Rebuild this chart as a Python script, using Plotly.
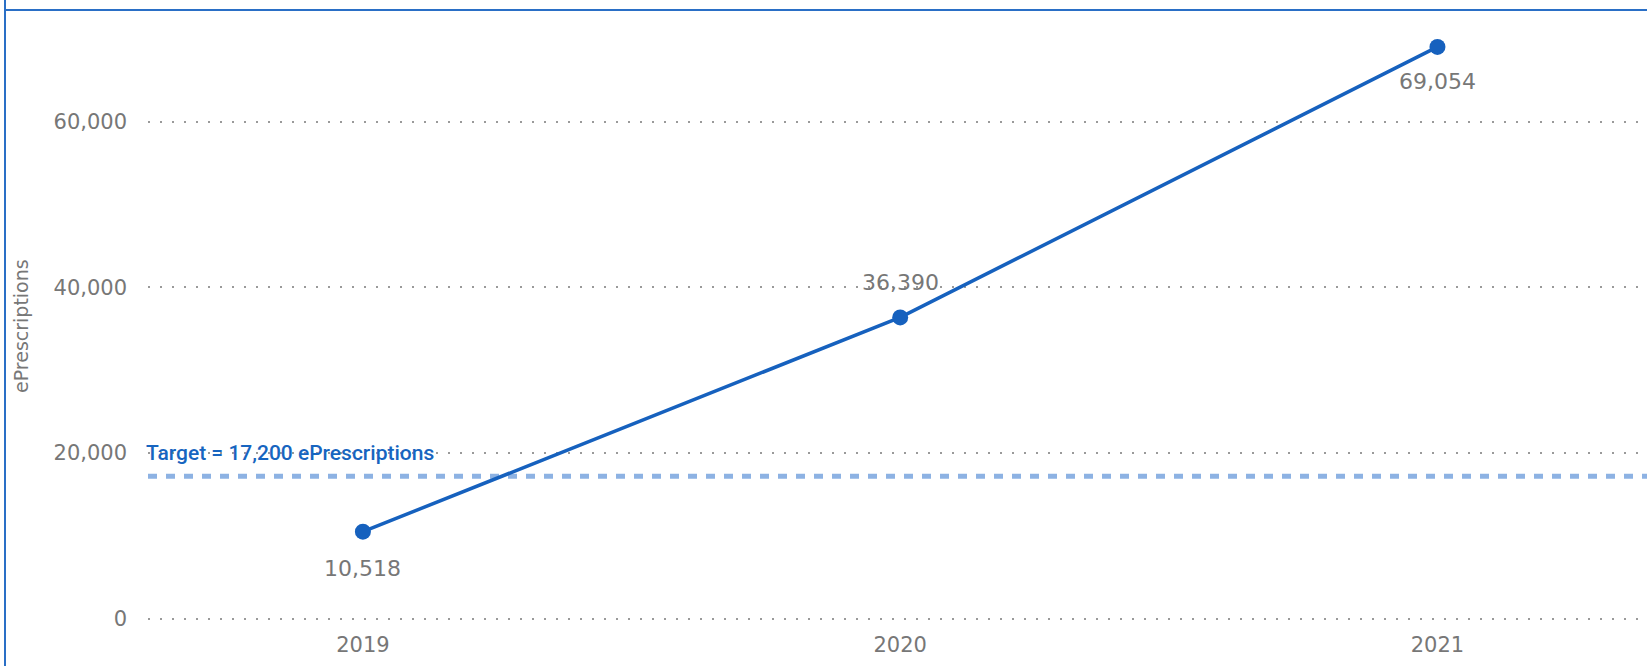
import plotly.graph_objects as go

# ePrescriptions per year
years = ["2019", "2020", "2021"]
eprescriptions = [10518, 36390, 69054]
label_shift = [-37, 35, -35]  # vertical offset of each value label (px)

target_value = 17200
target_text = "Target = 17,200 ePrescriptions"

y_ticks = [0, 20000, 40000, 60000]
y_tick_text = ["0", "20,000", "40,000", "60,000"]

LINE_BLUE = "#1661BE"
TARGET_BLUE = "#8DB2E3"
GRAY = "#777777"
FONT = "DejaVu Sans, Open Sans, sans-serif"

W, H = 1647, 666
ML, MR, MT, MB = 148, 0, 20, 46
plot_w = W - ML - MR
plot_h = H - MT - MB

fig = go.Figure()

fig.add_trace(go.Scatter(
    x=years,
    y=eprescriptions,
    mode="lines+markers",
    line=dict(color=LINE_BLUE, width=3.5),
    marker=dict(color=LINE_BLUE, size=16),
    hoverinfo="skip",
    showlegend=False,
))

# value labels (positioned by category index)
for i, (v, dy) in enumerate(zip(eprescriptions, label_shift)):
    fig.add_annotation(
        x=i, y=v, xref="x", yref="y", text=f"{v:,}", showarrow=False,
        yshift=dy, font=dict(family=FONT, size=22, color=GRAY),
    )

# target reference line
fig.add_shape(
    type="line", xref="paper", yref="y",
    x0=0, x1=1, y0=target_value, y1=target_value,
    line=dict(color=TARGET_BLUE, width=5, dash="9px,9px"),
    layer="below",
)
fig.add_annotation(
    xref="paper", yref="y", x=0, y=target_value,
    xanchor="left", yanchor="middle", yshift=23, xshift=-4,
    text=target_text, showarrow=False,
    font=dict(family="Roboto, sans-serif", size=21,
              color="#1765C0", weight=500),
)

# y-axis title
fig.add_annotation(
    xref="paper", yref="paper",
    x=(21 - ML) / plot_w, y=(H - MB - 326) / plot_h,
    xanchor="center", yanchor="middle", textangle=-90,
    text="ePrescriptions", showarrow=False,
    font=dict(family=FONT, size=19, color=GRAY),
)

# frame lines (left and top)
fig.add_shape(
    type="line", xref="paper", yref="paper",
    x0=(5 - ML) / plot_w, x1=(5 - ML) / plot_w,
    y0=-MB / plot_h - 0.01, y1=(H - MB) / plot_h + 0.01,
    line=dict(color="#2A6FC6", width=2),
)
fig.add_shape(
    type="line", xref="paper", yref="paper",
    x0=(5 - ML) / plot_w, x1=1.01,
    y0=(H - MB - 10) / plot_h, y1=(H - MB - 10) / plot_h,
    line=dict(color="#2A6FC6", width=2),
)

fig.update_layout(
    width=W, height=H,
    margin=dict(l=ML, r=MR, t=MT, b=MB),
    paper_bgcolor="white", plot_bgcolor="white",
    font=dict(family=FONT, color=GRAY),
    xaxis=dict(
        type="category", range=[-0.4, 2.39],
        showgrid=False, zeroline=False, showline=False,
        tickfont=dict(family=FONT, size=21, color=GRAY),
        ticks="", fixedrange=True, ticklabelstandoff=10,
    ),
    yaxis=dict(
        range=[-150, 72300],
        tickvals=y_ticks, ticktext=y_tick_text,
        showgrid=True, gridcolor="#9A9A9A", gridwidth=2, griddash="2px,10px",
        zeroline=False, showline=False,
        tickfont=dict(family=FONT, size=21, color=GRAY),
        ticklabelstandoff=20,
    ),
)

fig.write_html("out.html")
